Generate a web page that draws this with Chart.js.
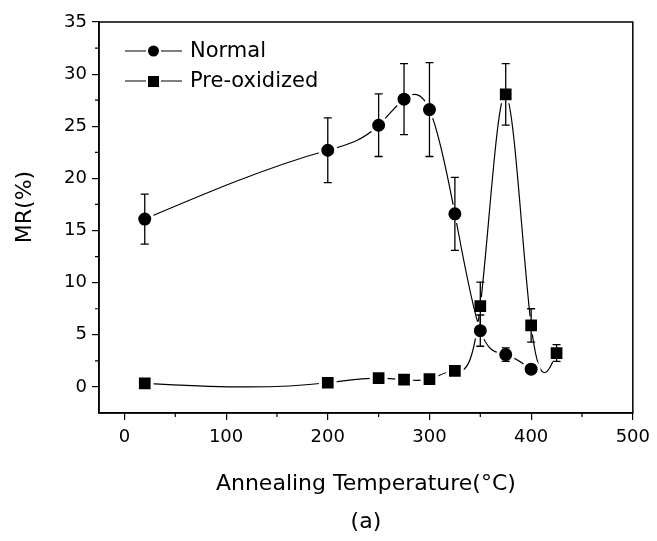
<!DOCTYPE html>
<html>
<head>
<meta charset="utf-8">
<script src="https://cdn.jsdelivr.net/npm/chart.js@4/dist/chart.umd.min.js"></script>
<style>
  html, body { margin: 0; padding: 0; background: #fff; }
  #wrap { width: 657px; height: 541px; }
</style>
</head>
<body>
<div id="wrap"><canvas id="mrChart" width="657" height="541"></canvas></div>
<script>
// values
const normalTemps = [20, 200, 250, 275, 300, 325, 350, 375, 400];
const normalMR    = [16.1, 22.7, 25.1, 27.6, 26.6, 16.6, 5.4, 3.1, 1.7];
const normalErr   = [2.4, 3.1, 3.0, 3.4, 4.5, 3.5, 1.5, 0.65, 0.3];

const preTemps = [20, 200, 250, 275, 300, 325, 350, 375, 400, 425];
const preMR    = [0.35, 0.4, 0.85, 0.7, 0.75, 1.55, 7.75, 28.05, 5.9, 3.25];
const preErr   = [0, 0, 0, 0, 0, 0.4, 2.3, 2.95, 1.6, 0.8];

const xTicks = [0, 100, 200, 300, 400, 500];
const xMinorTicks = [50, 150, 250, 350, 450];
const yTicks = [0, 5, 10, 15, 20, 25, 30, 35];
const yMinorTicks = [2.5, 7.5, 12.5, 17.5, 22.5, 27.5, 32.5];

const FONT = "'DejaVu Sans', sans-serif";

const toPoints = (xs, ys) => xs.map((x, i) => ({ x: x, y: ys[i] }));

// natural cubic spline slopes through the drawn point elements (pixel space)
function splineSlopes(pts) {
  const n = pts.length;
  const h = [], d = [];
  for (let i = 0; i < n - 1; i++) {
    h.push(pts[i + 1].x - pts[i].x);
    d.push((pts[i + 1].y - pts[i].y) / h[i]);
  }
  // tridiagonal solve for second derivatives, M0 = Mn = 0
  const M = new Array(n).fill(0);
  if (n > 2) {
    const a = [], b = [], c = [], r = [];
    for (let i = 1; i < n - 1; i++) {
      a.push(h[i - 1]); b.push(2 * (h[i - 1] + h[i])); c.push(h[i]);
      r.push(6 * (d[i] - d[i - 1]));
    }
    const m = b.length;
    for (let i = 1; i < m; i++) {
      const w = a[i] / b[i - 1];
      b[i] -= w * c[i - 1];
      r[i] -= w * r[i - 1];
    }
    const sol = new Array(m);
    sol[m - 1] = r[m - 1] / b[m - 1];
    for (let i = m - 2; i >= 0; i--) sol[i] = (r[i] - c[i] * sol[i + 1]) / b[i];
    for (let i = 0; i < m; i++) M[i + 1] = sol[i];
  }
  const s = [];
  for (let i = 0; i < n; i++) {
    if (i < n - 1) s.push(d[i] - h[i] * (2 * M[i] + M[i + 1]) / 6);
    else s.push(d[i - 1] + h[i - 1] * (M[i - 1] + 2 * M[i]) / 6);
  }
  return { h, s };
}

const splineLines = {
  id: 'splineLines',
  beforeDatasetDraw(chart, args) {
    const meta = args.meta;
    const pts = meta.data;
    if (pts.length < 2) return;
    const { h, s } = splineSlopes(pts);
    for (let i = 0; i < pts.length; i++) {
      const p = pts[i];
      if (i > 0) {
        p.cp1x = p.x - h[i - 1] / 3;
        p.cp1y = p.y - s[i] * h[i - 1] / 3;
      } else { p.cp1x = p.x; p.cp1y = p.y; }
      if (i < pts.length - 1) {
        p.cp2x = p.x + h[i] / 3;
        p.cp2y = p.y + s[i] * h[i] / 3;
      } else { p.cp2x = p.x; p.cp2y = p.y; }
    }
    meta.dataset._pointsUpdated = true;
  }
};

// error bars, minor ticks, frame, y title and legend drawn on top
const extras = {
  id: 'extras',
  afterDatasetsDraw(chart) {
    const ctx = chart.ctx;
    const xs = chart.scales.x, ys = chart.scales.y;
    ctx.save();
    ctx.strokeStyle = '#000';
    ctx.lineWidth = 1.3;
    const bars = [[normalTemps, normalMR, normalErr], [preTemps, preMR, preErr]];
    bars.forEach(([tx, my, er]) => {
      tx.forEach((t, i) => {
        if (!er[i]) return;
        const px = xs.getPixelForValue(t);
        const top = ys.getPixelForValue(my[i] + er[i]);
        const bot = ys.getPixelForValue(my[i] - er[i]);
        ctx.beginPath();
        ctx.moveTo(px, top); ctx.lineTo(px, bot);
        ctx.moveTo(px - 4, top); ctx.lineTo(px + 4, top);
        ctx.moveTo(px - 4, bot); ctx.lineTo(px + 4, bot);
        ctx.stroke();
      });
    });
    ctx.restore();
  },
  afterDraw(chart) {
    const ctx = chart.ctx;
    const a = chart.chartArea;
    const xs = chart.scales.x, ys = chart.scales.y;
    ctx.save();
    ctx.strokeStyle = '#000';
    ctx.lineWidth = 1.5;
    ctx.strokeRect(a.left, a.top, a.right - a.left, a.bottom - a.top);

    ctx.lineWidth = 1.2;
    ctx.beginPath();
    xMinorTicks.forEach(v => {
      const p = xs.getPixelForValue(v);
      ctx.moveTo(p, a.bottom); ctx.lineTo(p, a.bottom + 4);
    });
    yMinorTicks.forEach(v => {
      const p = ys.getPixelForValue(v);
      ctx.moveTo(a.left, p); ctx.lineTo(a.left - 4, p);
    });
    ctx.stroke();

    // y axis title
    ctx.fillStyle = '#000';
    ctx.font = '22px ' + FONT;
    ctx.textAlign = 'center';
    ctx.textBaseline = 'middle';
    ctx.translate(25, 207);
    ctx.rotate(-Math.PI / 2);
    ctx.fillText('MR(%)', 0, 0);
    ctx.setTransform(1, 0, 0, 1, 0, 0);

    // legend
    const rows = [
      { label: 'Normal', y: 51, shape: 'circle' },
      { label: 'Pre-oxidized', y: 81, shape: 'square' }
    ];
    ctx.font = '21px ' + FONT;
    ctx.textAlign = 'left';
    rows.forEach(r => {
      ctx.lineWidth = 1.2;
      ctx.beginPath();
      ctx.moveTo(125, r.y); ctx.lineTo(146, r.y);
      ctx.moveTo(161, r.y); ctx.lineTo(182, r.y);
      ctx.stroke();
      ctx.beginPath();
      if (r.shape === 'circle') ctx.arc(153.5, r.y, 5.5, 0, Math.PI * 2);
      else ctx.rect(148, r.y - 5, 11, 11);
      ctx.fill();
      ctx.fillText(r.label, 190, r.y + 1);
    });
    ctx.restore();
  }
};

new Chart(document.getElementById('mrChart'), {
  type: 'line',
  data: {
    datasets: [
      {
        label: 'Normal',
        data: toPoints(normalTemps, normalMR),
        borderColor: '#000',
        borderWidth: 1.2,
        tension: 0.4,
        pointStyle: 'circle',
        pointRadius: 8,
        pointBackgroundColor: '#000',
        pointBorderColor: '#fff',
        pointBorderWidth: 3
      },
      {
        label: 'Pre-oxidized',
        data: toPoints(preTemps, preMR),
        borderColor: '#000',
        borderWidth: 1.2,
        tension: 0.4,
        pointStyle: 'rect',
        pointRadius: 10.4,
        pointBackgroundColor: '#000',
        pointBorderColor: '#fff',
        pointBorderWidth: 3
      }
    ]
  },
  options: {
    responsive: false,
    animation: false,
    events: [],
    layout: { padding: { top: 22, right: 20, left: 0, bottom: 0 } },
    plugins: { legend: { display: false }, tooltip: { enabled: false } },
    scales: {
      x: {
        type: 'linear',
        min: -25, max: 500,
        afterFit: s => { s.height = 128; },
        afterBuildTicks: s => { s.ticks = xTicks.map(v => ({ value: v })); },
        grid: { drawOnChartArea: false, tickLength: 7, color: '#000', lineWidth: 1.2 },
        border: { color: '#000', width: 1.5 },
        ticks: { color: '#000', padding: 7, maxRotation: 0, font: { family: FONT, size: 18 } },
        title: {
          display: true,
          text: ['Annealing Temperature(°C)', '(a)'],
          color: '#000',
          font: { family: FONT, size: 22, lineHeight: 1.72 },
          padding: { top: 0, bottom: 0 }
        }
      },
      y: {
        min: -2.5, max: 35,
        afterFit: s => { s.width = 99; },
        afterBuildTicks: s => { s.ticks = yTicks.map(v => ({ value: v })); },
        grid: { drawOnChartArea: false, tickLength: 7, color: '#000', lineWidth: 1.2 },
        border: { color: '#000', width: 1.5 },
        ticks: { color: '#000', padding: 5, font: { family: FONT, size: 18 } }
      }
    }
  },
  plugins: [splineLines, extras]
});
</script>
</body>
</html>
